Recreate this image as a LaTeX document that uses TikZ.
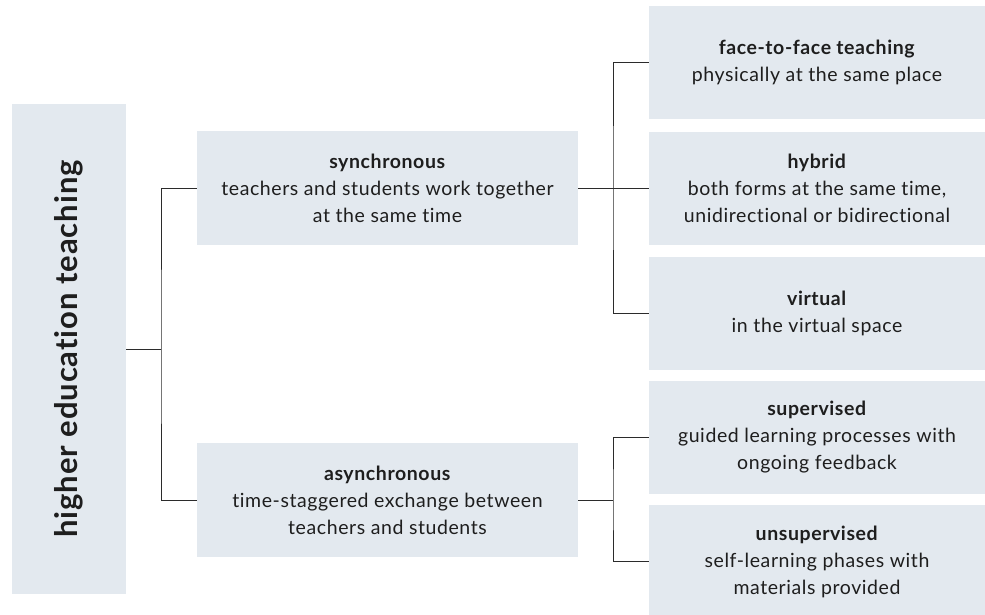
\documentclass[tikz,border=0pt]{standalone}
\usepackage{fontspec}
\setmainfont{Lato}[LetterSpace=3, RawFeature={-liga;-dlig}]
\definecolor{boxgray}{HTML}{E3E9EF}
\definecolor{linegray}{HTML}{2B2B2B}
\definecolor{textgray}{HTML}{1E1E1E}

\begin{document}
\begin{tikzpicture}[x=1pt, y=-1pt,
	box/.style={fill=boxgray, inner sep=0pt, align=center, text=textgray, font=\fontsize{19.5}{27}\selectfont},
	midbox/.style={box, minimum width=381pt, minimum height=114pt},
	leafbox/.style={box, minimum width=336pt, minimum height=113pt},
	link/.style={draw=linegray, line width=1pt}]

\useasboundingbox (0,0) rectangle (985,614);

%root
\node[box, minimum width=114pt, minimum height=490pt] (root) at (69,349) {};
\node[rotate=90, text=textgray, font=\fontsize{31}{34}\selectfont\bfseries] (rootlabel) at (root.center) {higher education teaching};

%middle level
\node[midbox] (sync) at (387.5,188) {\textbf{synchronous}\\teachers and students work together\\at the same time};
\node[midbox] (async) at (387.5,500) {\textbf{asynchronous}\\time-staggered exchange between\\teachers and students};

%leaves
\node[leafbox] (facetoface) at (817,62.5) {\textbf{face-to-face teaching}\\physically at the same place};
\node[leafbox] (hybrid) at (817,188) {\textbf{hybrid}\\both forms at the same time,\\unidirectional or bidirectional};
\node[leafbox] (virtual) at (817,313) {\textbf{virtual}\\in the virtual space};
\node[leafbox] (supervised) at (817,437.5) {\textbf{supervised}\\guided learning processes with\\ongoing feedback};
\node[leafbox] (unsupervised) at (817,561.5) {\textbf{unsupervised}\\self-learning phases with\\materials provided};

%forks
\coordinate (forkroot) at (161,349);
\coordinate (forksync) at (613,188);
\coordinate (forkasync) at (613,500);

\draw[link] (root.east) -- (forkroot);
\draw[link] (sync.west) -| (forkroot) |- (async.west);

\draw[link] (sync.east) -- (forksync);
\draw[link] (facetoface.west) -| (forksync) |- (virtual.west);
\draw[link] (forksync) -- (hybrid.west);

\draw[link] (async.east) -- (forkasync);
\draw[link] (supervised.west) -| (forkasync) |- (unsupervised.west);

\end{tikzpicture}
\end{document}
